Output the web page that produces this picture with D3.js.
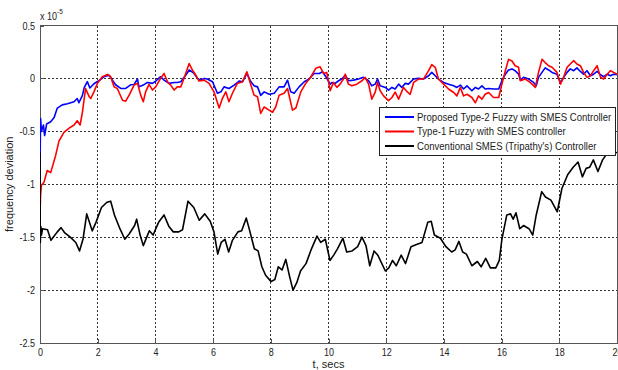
<!DOCTYPE html>
<html>
<head>
<meta charset="utf-8">
<script src="https://cdn.jsdelivr.net/npm/d3@7"></script>
<style>
  body { margin: 0; background: #fff; }
  svg text { font-family: "Liberation Sans", Arial, sans-serif; fill: #222; }
</style>
</head>
<body>
<div id="chart"></div>
<script>
// Time ticks and value ticks (values are in units of 1e-5)
let xTicks = [0, 2, 4, 6, 8, 10, 12, 14, 16, 18, 20]
let yTicks = [0.5, 0, -0.5, -1, -1.5, -2, -2.5]

let seriesNames = [
  "Proposed Type-2 Fuzzy with SMES Controller",
  "Type-1 Fuzzy with SMES controller",
  "Conventional SMES (Tripathy's) Controller"
]
let seriesColors = ["#0000ff", "#ff0000", "#000000"]

// [t, deviation]
let type2Data = [[0, -0.83], [0.02, -0.38], [0.05, -0.5], [0.12, -0.44], [0.16, -0.54], [0.23, -0.43], [0.37, -0.41], [0.49, -0.37], [0.60, -0.28], [0.77, -0.25], [0.95, -0.24], [1.18, -0.22], [1.29, -0.19], [1.35, -0.23], [1.47, -0.16], [1.53, -0.09], [1.64, -0.03], [1.73, -0.09], [1.87, -0.05], [2.05, -0.02], [2.22, 0.016], [2.39, 0.03], [2.51, -0.016], [2.62, -0.06], [2.80, -0.095], [2.97, -0.095], [3.14, -0.06], [3.26, -0.057], [3.38, -0.006], [3.43, -0.08], [3.58, -0.063], [3.72, -0.038], [3.90, -0.047], [4.01, -0.025], [4.18, 0.016], [4.30, -0.016], [4.47, -0.047], [4.65, -0.038], [4.76, -0.038], [4.88, -0.032], [5.05, 0.03], [5.17, 0.08], [5.34, 0.047], [5.46, 0], [5.57, -0.016], [5.69, 0], [5.80, -0.006], [5.98, -0.032], [6.15, -0.14], [6.27, -0.127], [6.38, -0.08], [6.55, -0.095], [6.73, -0.063], [6.90, -0.025], [7.02, -0.032], [7.17, 0.047], [7.31, -0.032], [7.42, -0.07], [7.54, -0.08], [7.65, -0.16], [7.77, -0.127], [7.94, -0.15], [8.12, -0.14], [8.29, -0.08], [8.46, -0.08], [8.58, -0.016], [8.69, -0.127], [8.81, -0.14], [8.98, -0.08], [9.16, -0.032], [9.33, -0.006], [9.50, 0.047], [9.68, 0.047], [9.79, 0.063], [9.91, 0.016], [10.06, -0.054], [10.12, -0.04], [10.23, -0.047], [10.35, -0.022], [10.46, -0.006], [10.58, 0.03], [10.69, -0.022], [10.87, -0.016], [11.04, -0.006], [11.21, 0.01], [11.39, -0.022], [11.50, -0.07], [11.62, -0.054], [11.70, -0.006], [11.79, -0.07], [11.97, -0.085], [12.08, -0.11], [12.2, -0.085], [12.31, -0.1], [12.43, -0.054], [12.54, -0.085], [12.66, -0.047], [12.77, -0.054], [12.95, -0.006], [13.12, 0], [13.29, -0.006], [13.47, 0.025], [13.58, 0.057], [13.7, 0.025], [13.81, -0.006], [13.99, -0.038], [14.16, -0.054], [14.34, -0.07], [14.45, -0.085], [14.57, -0.063], [14.68, -0.1], [14.8, -0.07], [14.97, -0.117], [15.09, -0.085], [15.2, -0.1], [15.32, -0.07], [15.43, -0.1], [15.55, -0.095], [15.72, -0.1], [15.90, -0.1], [16.01, -0.022], [16.13, 0.04], [16.24, 0.08], [16.36, 0.09], [16.47, 0.073], [16.59, 0.04], [16.65, -0.016], [16.76, 0.01], [16.94, -0.006], [17.11, -0.038], [17.20, -0.07], [17.28, 0.01], [17.40, 0.057], [17.51, 0.1], [17.63, 0.08], [17.75, 0.057], [17.92, 0.04], [18.04, -0.04], [18.15, 0.01], [18.27, 0.057], [18.38, 0.09], [18.5, 0.073], [18.61, 0.1], [18.73, 0.066], [18.84, 0.04], [18.96, 0.073], [19.08, 0.025], [19.19, 0.04], [19.31, 0.066], [19.43, 0.035], [19.54, 0.016], [19.66, 0.04], [19.77, 0.025], [19.88, 0.04], [20.0, 0.035]]

let type1Data = [[0, -1.30], [0.02, -1.10], [0.05, -1.01], [0.14, -0.98], [0.25, -0.87], [0.37, -0.89], [0.54, -0.73], [0.66, -0.59], [0.83, -0.51], [1.01, -0.47], [1.18, -0.44], [1.29, -0.40], [1.39, -0.44], [1.47, -0.32], [1.58, -0.095], [1.70, -0.17], [1.76, -0.19], [1.87, -0.127], [1.99, -0.047], [2.16, 0.016], [2.34, 0.038], [2.45, 0.016], [2.57, -0.08], [2.68, -0.095], [2.86, -0.206], [2.97, -0.215], [3.09, -0.158], [3.26, -0.063], [3.38, -0.047], [3.49, -0.158], [3.58, -0.22], [3.66, -0.127], [3.78, -0.057], [3.90, -0.11], [4.01, -0.08], [4.18, 0], [4.30, 0.047], [4.42, -0.032], [4.53, -0.063], [4.65, -0.11], [4.76, -0.08], [4.88, -0.08], [4.99, 0], [5.17, 0.14], [5.28, 0.08], [5.40, 0.032], [5.51, -0.025], [5.69, -0.016], [5.86, -0.047], [6.03, -0.127], [6.21, -0.28], [6.32, -0.19], [6.44, -0.127], [6.55, -0.22], [6.67, -0.14], [6.84, -0.047], [7.02, -0.032], [7.17, 0.063], [7.31, -0.063], [7.42, -0.158], [7.54, -0.174], [7.65, -0.33], [7.77, -0.27], [7.94, -0.30], [8.06, -0.32], [8.17, -0.27], [8.29, -0.158], [8.46, -0.14], [8.58, -0.095], [8.75, -0.30], [8.87, -0.28], [9.04, -0.127], [9.21, -0.047], [9.39, 0.016], [9.56, 0.095], [9.71, 0.11], [9.83, 0.047], [9.94, 0.057], [10.06, -0.117], [10.17, -0.038], [10.29, -0.085], [10.40, -0.054], [10.52, -0.006], [10.58, 0.04], [10.69, -0.054], [10.81, -0.07], [10.98, -0.054], [11.16, -0.022], [11.27, 0.01], [11.39, -0.054], [11.50, -0.196], [11.62, -0.13], [11.70, -0.038], [11.79, -0.117], [11.91, -0.165], [12.08, -0.21], [12.2, -0.18], [12.31, -0.13], [12.43, -0.196], [12.60, -0.085], [12.74, -0.13], [12.83, -0.15], [12.95, -0.038], [13.12, -0.006], [13.29, -0.006], [13.47, 0.073], [13.58, 0.13], [13.7, 0.105], [13.81, -0.006], [13.99, -0.054], [14.16, -0.1], [14.34, -0.133], [14.45, -0.165], [14.57, -0.085], [14.68, -0.165], [14.8, -0.15], [14.97, -0.18], [15.09, -0.23], [15.2, -0.165], [15.32, -0.196], [15.43, -0.15], [15.55, -0.133], [15.72, -0.18], [15.90, -0.18], [16.01, -0.054], [16.13, 0.073], [16.24, 0.18], [16.36, 0.165], [16.47, 0.12], [16.59, 0.105], [16.65, -0.022], [16.82, -0.006], [16.99, -0.038], [17.17, -0.085], [17.28, 0.057], [17.40, 0.18], [17.51, 0.15], [17.63, 0.12], [17.75, 0.105], [17.92, 0.057], [18.04, -0.054], [18.15, 0.01], [18.27, 0.105], [18.38, 0.136], [18.5, 0.168], [18.61, 0.136], [18.73, 0.12], [18.84, 0.057], [18.96, 0.01], [19.08, 0.025], [19.19, 0.073], [19.31, 0.12], [19.43, 0.01], [19.54, -0.006], [19.66, 0.04], [19.77, 0.073], [19.88, 0.057], [20.0, 0.04]]

let smesData = [[0, -0.70], [0.01, -1.55], [0.03, -1.40], [0.05, -1.48], [0.09, -1.42], [0.26, -1.43], [0.38, -1.53], [0.60, -1.45], [0.73, -1.41], [0.86, -1.46], [1.05, -1.50], [1.24, -1.55], [1.37, -1.63], [1.49, -1.52], [1.62, -1.28], [1.81, -1.44], [1.94, -1.36], [2.13, -1.22], [2.32, -1.17], [2.45, -1.16], [2.58, -1.29], [2.77, -1.42], [2.94, -1.52], [3.09, -1.47], [3.28, -1.39], [3.35, -1.33], [3.47, -1.48], [3.58, -1.58], [3.70, -1.50], [3.79, -1.44], [3.92, -1.48], [4.11, -1.36], [4.30, -1.29], [4.47, -1.40], [4.62, -1.45], [4.81, -1.45], [4.94, -1.43], [5.13, -1.16], [5.33, -1.22], [5.52, -1.34], [5.71, -1.28], [5.90, -1.35], [6.03, -1.45], [6.16, -1.66], [6.28, -1.55], [6.41, -1.52], [6.54, -1.64], [6.67, -1.53], [6.86, -1.45], [6.99, -1.44], [7.15, -1.32], [7.24, -1.41], [7.43, -1.61], [7.56, -1.63], [7.69, -1.78], [7.82, -1.86], [8.01, -1.92], [8.14, -1.90], [8.26, -1.78], [8.39, -1.81], [8.52, -1.71], [8.65, -1.87], [8.77, -2.00], [8.90, -1.93], [9.03, -1.82], [9.22, -1.75], [9.41, -1.61], [9.60, -1.49], [9.73, -1.55], [9.89, -1.52], [10.05, -1.72], [10.18, -1.67], [10.31, -1.61], [10.50, -1.51], [10.63, -1.64], [10.82, -1.63], [11.01, -1.59], [11.16, -1.50], [11.30, -1.58], [11.43, -1.77], [11.58, -1.63], [11.71, -1.67], [11.97, -1.82], [12.09, -1.79], [12.22, -1.72], [12.35, -1.77], [12.52, -1.67], [12.67, -1.75], [12.86, -1.59], [13.05, -1.57], [13.24, -1.55], [13.44, -1.36], [13.56, -1.35], [13.67, -1.48], [13.88, -1.51], [14.07, -1.59], [14.27, -1.64], [14.39, -1.62], [14.52, -1.54], [14.65, -1.64], [14.78, -1.66], [14.97, -1.77], [15.16, -1.73], [15.29, -1.78], [15.45, -1.70], [15.61, -1.79], [15.80, -1.79], [15.92, -1.72], [16.01, -1.52], [16.18, -1.29], [16.31, -1.28], [16.40, -1.33], [16.50, -1.27], [16.63, -1.42], [16.76, -1.39], [16.95, -1.42], [17.08, -1.48], [17.20, -1.29], [17.39, -1.07], [17.52, -1.12], [17.71, -1.15], [17.93, -1.26], [18.09, -1.04], [18.29, -0.91], [18.48, -0.84], [18.65, -0.79], [18.80, -0.93], [18.93, -0.85], [19.05, -0.84], [19.18, -0.77], [19.34, -0.88], [19.50, -0.77], [19.63, -0.72], [19.82, -0.71], [20.0, -0.70]]

let width = 618
let height = 370
let margin = { top: 25.5, right: 1, bottom: 27, left: 40 }

let svg = d3.select("#chart").append("svg")
    .attr("width", width)
    .attr("height", height)

let x = d3.scaleLinear().domain([0, 20]).range([margin.left, width - margin.right])
let y = d3.scaleLinear().domain([-2.5, 0.5]).range([height - margin.bottom, margin.top])

let x0 = x(0), x1 = x(20), yTop = y(0.5), yBot = y(-2.5)

// squeeze a text horizontally around its anchor point (original font is condensed)
function squeeze(sel, k) {
  sel.each(function() {
    let t = d3.select(this)
    let ax = +t.attr("x") || 0
    let ay = +t.attr("y") || 0
    t.attr("transform", "translate(" + ax + "," + ay + ") scale(" + k + ",1) translate(" + (-ax) + "," + (-ay) + ")")
  })
}

// Dotted grid, MATLAB style
let grid = svg.append("g").attr("stroke", "#333").attr("stroke-width", 1)
    .attr("stroke-dasharray", "2,2").attr("shape-rendering", "crispEdges")
grid.selectAll(".gx").data(xTicks.slice(1, -1)).enter().append("line")
    .attr("x1", (d) => x(d)).attr("x2", (d) => x(d))
    .attr("y1", yTop).attr("y2", yBot)
grid.selectAll(".gy").data(yTicks.slice(1, -1)).enter().append("line")
    .attr("x1", x0).attr("x2", x1)
    .attr("y1", (d) => y(d)).attr("y2", (d) => y(d))

// Axes with inward ticks
let xAxis = svg.append("g")
    .attr("transform", "translate(0," + yBot + ")")
    .call(d3.axisBottom(x).tickValues(xTicks).tickSizeInner(-4).tickSizeOuter(0).tickPadding(5))
let yAxis = svg.append("g")
    .attr("transform", "translate(" + x0 + ",0)")
    .call(d3.axisLeft(y).tickValues(yTicks).tickSizeInner(-4).tickSizeOuter(0).tickPadding(5)
      .tickFormat((d) => String(d)))

;[xAxis, yAxis].forEach((a) => {
  a.selectAll("path,line").attr("stroke", "#555").attr("shape-rendering", "crispEdges")
  a.selectAll("text").attr("font-size", 11).attr("fill", "#222")
      .attr("font-family", "'Liberation Sans', Arial, sans-serif")
      .call(squeeze, 0.82)
})

// Box (top and right)
svg.append("path")
    .attr("d", "M" + x0 + "," + yTop + "H" + x1 + "V" + yBot)
    .attr("fill", "none").attr("stroke", "#555").attr("shape-rendering", "crispEdges")

// Clip for curves
svg.append("clipPath").attr("id", "clip").append("rect")
    .attr("x", x0).attr("y", yTop).attr("width", x1 - x0).attr("height", yBot - yTop)

let line = d3.line().x((d) => x(d[0])).y((d) => y(d[1]))

let allSeries = [type2Data, type1Data, smesData]
svg.append("g").attr("clip-path", "url(#clip)")
  .selectAll("path").data(allSeries).enter().append("path")
    .attr("d", line)
    .attr("fill", "none")
    .attr("stroke", (d, i) => seriesColors[i])
    .attr("stroke-width", 1.6)
    .attr("stroke-linejoin", "round")

// Exponent label
let expo = svg.append("text").attr("x", 40).attr("y", 20).attr("font-size", 11)
expo.append("tspan").text("x 10")
expo.append("tspan").attr("dy", -6).attr("font-size", 8).text("-5")
expo.call(squeeze, 0.82)

// Axis titles
svg.append("text")
    .attr("transform", "translate(13," + y(-1) + ") rotate(-90)")
    .attr("text-anchor", "middle").attr("font-size", 11)
    .text("frequency deviation")
svg.append("text")
    .attr("x", x(10)).attr("y", 368)
    .attr("text-anchor", "middle").attr("font-size", 11)
    .text("t, secs")

// Legend
let lg = svg.append("g").attr("transform", "translate(379,107)")
lg.append("rect").attr("width", 236).attr("height", 48)
    .attr("fill", "#fff").attr("stroke", "#222").attr("shape-rendering", "crispEdges")
let items = lg.selectAll(".item").data(seriesNames).enter().append("g")
    .attr("transform", (d, i) => "translate(0," + (10 + i * 14.5) + ")")
items.append("line").attr("x1", 6).attr("x2", 35).attr("y1", 0).attr("y2", 0)
    .attr("stroke", (d, i) => seriesColors[i]).attr("stroke-width", 2)
items.append("text").attr("x", 38).attr("dy", "0.35em").attr("font-size", 11)
    .text((d) => d)
    .call(squeeze, 0.87)
</script>
</body>
</html>
